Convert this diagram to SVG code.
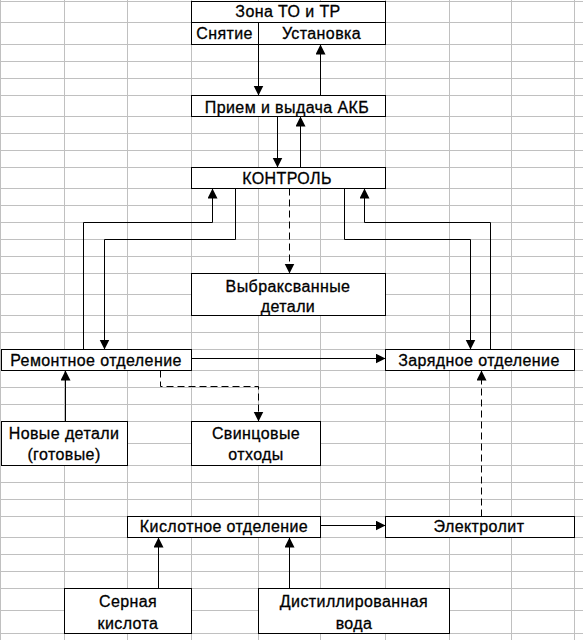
<svg xmlns="http://www.w3.org/2000/svg" width="583" height="640" viewBox="0 0 583 640">
<style>
.grid line{stroke:#c0c0c0;stroke-width:1}
.box{fill:#fff;stroke:#000;stroke-width:1}
.t{font-family:"Liberation Sans",Arial,sans-serif;font-size:16px;fill:#000;stroke:#000;stroke-width:0.3;letter-spacing:0.4px;text-anchor:middle}
.c{fill:none;stroke:#000;stroke-width:1}
.d{stroke-dasharray:7 4}
</style>
<defs>
<marker id="ah" markerUnits="userSpaceOnUse" markerWidth="11" markerHeight="11" refX="10" refY="5" orient="auto"><path d="M0,0 L10,5 L0,10 z" fill="#000"/></marker>
</defs>
<rect width="583" height="640" fill="#fff"/>
<g class="grid">
<line x1="0.5" y1="0" x2="0.5" y2="640"/>
<line x1="64.5" y1="0" x2="64.5" y2="640"/>
<line x1="127.5" y1="0" x2="127.5" y2="640"/>
<line x1="191.5" y1="0" x2="191.5" y2="640"/>
<line x1="258.5" y1="0" x2="258.5" y2="640"/>
<line x1="320.5" y1="0" x2="320.5" y2="640"/>
<line x1="385.5" y1="0" x2="385.5" y2="640"/>
<line x1="449.5" y1="0" x2="449.5" y2="640"/>
<line x1="511.5" y1="0" x2="511.5" y2="640"/>
<line x1="574.5" y1="0" x2="574.5" y2="640"/>
<line x1="0" y1="1.5" x2="583" y2="1.5"/>
<line x1="0" y1="22.5" x2="583" y2="22.5"/>
<line x1="0" y1="44.5" x2="583" y2="44.5"/>
<line x1="0" y1="61.5" x2="583" y2="61.5"/>
<line x1="0" y1="78.5" x2="583" y2="78.5"/>
<line x1="0" y1="95.5" x2="583" y2="95.5"/>
<line x1="0" y1="116.5" x2="583" y2="116.5"/>
<line x1="0" y1="133.5" x2="583" y2="133.5"/>
<line x1="0" y1="150.5" x2="583" y2="150.5"/>
<line x1="0" y1="167.5" x2="583" y2="167.5"/>
<line x1="0" y1="188.5" x2="583" y2="188.5"/>
<line x1="0" y1="205.5" x2="583" y2="205.5"/>
<line x1="0" y1="222.5" x2="583" y2="222.5"/>
<line x1="0" y1="239.5" x2="583" y2="239.5"/>
<line x1="0" y1="256.5" x2="583" y2="256.5"/>
<line x1="0" y1="273.5" x2="583" y2="273.5"/>
<line x1="0" y1="294.5" x2="583" y2="294.5"/>
<line x1="0" y1="315.5" x2="583" y2="315.5"/>
<line x1="0" y1="332.5" x2="583" y2="332.5"/>
<line x1="0" y1="349.5" x2="583" y2="349.5"/>
<line x1="0" y1="370.5" x2="583" y2="370.5"/>
<line x1="0" y1="387.5" x2="583" y2="387.5"/>
<line x1="0" y1="404.5" x2="583" y2="404.5"/>
<line x1="0" y1="421.5" x2="583" y2="421.5"/>
<line x1="0" y1="443.5" x2="583" y2="443.5"/>
<line x1="0" y1="465.5" x2="583" y2="465.5"/>
<line x1="0" y1="482.5" x2="583" y2="482.5"/>
<line x1="0" y1="499.5" x2="583" y2="499.5"/>
<line x1="0" y1="516.5" x2="583" y2="516.5"/>
<line x1="0" y1="537.5" x2="583" y2="537.5"/>
<line x1="0" y1="554.5" x2="583" y2="554.5"/>
<line x1="0" y1="571.5" x2="583" y2="571.5"/>
<line x1="0" y1="588.5" x2="583" y2="588.5"/>
<line x1="0" y1="610.5" x2="583" y2="610.5"/>
<line x1="0" y1="633.5" x2="583" y2="633.5"/>
</g>
<g id="zona">
<rect class="box" x="191.5" y="1.5" width="194" height="43"/>
<line x1="191.5" y1="22.5" x2="385.5" y2="22.5" stroke="#000"/>
<line x1="258.5" y1="22.5" x2="258.5" y2="44.5" stroke="#000"/>
<text class="t" x="288" y="17">Зона ТО и ТР</text>
<text class="t" x="224.5" y="38.5">Снятие</text>
<text class="t" x="321.5" y="38.5">Установка</text>
</g>
<g id="priem">
<rect class="box" x="191.5" y="95.5" width="194" height="21"/>
<text class="t" x="287" y="112.5">Прием и выдача АКБ</text>
</g>
<g id="kontrol">
<rect class="box" x="191.5" y="167.5" width="194" height="21"/>
<text class="t" x="287" y="184">КОНТРОЛЬ</text>
</g>
<g id="vybrak">
<rect class="box" x="191.5" y="273.5" width="194" height="42"/>
<text class="t" x="288" y="291.5">Выбраксванные</text>
<text class="t" x="288" y="311.5">детали</text>
</g>
<g id="remont">
<rect class="box" x="1.5" y="349.5" width="190" height="21"/>
<text class="t" x="96" y="366">Ремонтное отделение</text>
</g>
<g id="zaryad">
<rect class="box" x="385.5" y="349.5" width="189" height="21"/>
<text class="t" x="479" y="366">Зарядное отделение</text>
</g>
<g id="novye">
<rect class="box" x="1.5" y="421.5" width="126" height="44"/>
<text class="t" x="64" y="438.5">Новые детали</text>
<text class="t" x="64" y="460">(готовые)</text>
</g>
<g id="svinec">
<rect class="box" x="191.5" y="421.5" width="129" height="44"/>
<text class="t" x="256" y="438.5">Свинцовые</text>
<text class="t" x="256" y="460">отходы</text>
</g>
<g id="kislot">
<rect class="box" x="127.5" y="516.5" width="193" height="21"/>
<text class="t" x="224" y="532">Кислотное отделение</text>
</g>
<g id="elektrolit">
<rect class="box" x="385.5" y="516.5" width="189" height="21"/>
<text class="t" x="479" y="532">Электролит</text>
</g>
<g id="sernaya">
<rect class="box" x="64.5" y="588.5" width="127" height="45"/>
<text class="t" x="128" y="606.5">Серная</text>
<text class="t" x="128" y="628.5">кислота</text>
</g>
<g id="distil">
<rect class="box" x="258.5" y="588.5" width="191" height="45"/>
<text class="t" x="354" y="606.5">Дистиллированная</text>
<text class="t" x="354" y="628.5">вода</text>
</g>
<g id="connectors">
<path class="c" d="M258.5,44.5 V95.5" marker-end="url(#ah)"/>
<path class="c" d="M320.5,95.5 V44.5" marker-end="url(#ah)"/>
<path class="c" d="M277.5,116.5 V167.5" marker-end="url(#ah)"/>
<path class="c" d="M300.5,167.5 V116.5" marker-end="url(#ah)"/>
<path class="c" d="M83.5,349.5 V222.5 H212.5 V188.5" marker-end="url(#ah)"/>
<path class="c" d="M235.5,188.5 V239.5 H104.5 V349.5" marker-end="url(#ah)"/>
<path class="c" d="M344.5,188.5 V239.5 H470.5 V349.5" marker-end="url(#ah)"/>
<path class="c" d="M490.5,349.5 V222.5 H364.5 V188.5" marker-end="url(#ah)"/>
<path class="c d" d="M289.5,188.5 V273.5" marker-end="url(#ah)"/>
<path class="c" d="M191.5,358.5 H385.5" marker-end="url(#ah)"/>
<path class="c d" d="M160.5,370.5 V386.5 H258.5 V421.5" marker-end="url(#ah)"/>
<path class="c" d="M65.5,421.5 V370.5" marker-end="url(#ah)"/>
<path class="c d" d="M481.5,516.5 V370.5" marker-end="url(#ah)"/>
<path class="c" d="M320.5,525.5 H385.5" marker-end="url(#ah)"/>
<path class="c" d="M158.5,588.5 V537.5" marker-end="url(#ah)"/>
<path class="c" d="M289.5,588.5 V537.5" marker-end="url(#ah)"/>
</g>
</svg>
